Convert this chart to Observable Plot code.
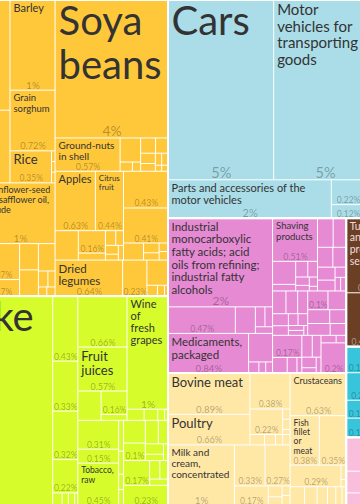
<!DOCTYPE html>
<html><head><meta charset="utf-8">
<script src="https://cdn.jsdelivr.net/npm/d3@7"></script>
<script src="https://cdn.jsdelivr.net/npm/@observablehq/plot@0.6"></script>
<style>html,body{margin:0;padding:0;background:#fff;overflow:hidden}#chart svg{display:block;overflow:hidden}</style>
</head><body><div id="chart"></div>
<script>
const B = n => Array(n).fill("");   // cells whose names are not readable

// ---- Vegetable products (yellow) ----
const vegetableNames = [...B(2),
  ...B(2), "Barley", "Grain sorghum", "Rice", ...B(3),
  "", "Sunflower-seed or safflower oil, crude",
  ...B(11),
  "Soya beans",
  "Ground-nuts in shell", ...B(11),
  "Apples", "Citrus fruit", ...B(8),
  ...B(7),
  "Dried legumes", ...B(5)];
const vegetableShares = [10.4, 8.31,
  2.03, 1.34, 1.07, 0.72, 0.35, 0.01, 0.01, 0.01,
  0.72, 1.12,
  0.3, 0.26, 0.37, 0.17, 0.13, 0.13, 0.12, 0.04, 0.03, 0.02, 0.02,
  4.1,
  0.57, 0.13, 0.03, 0.02, 0.06, 0.05, 0.04, 0.03, 0.02, 0.02, 0.01, 0.01,
  0.63, 0.44, 0.18, 0.16, 0.05, 0.04, 0.03, 0.03, 0.02, 0.02,
  0.43, 0.41, 0.09, 0.04, 0.03, 0.02, 0.02,
  0.64, 0.23, 0.14, 0.03, 0.02, 0.01];
const vegetableTiling = ["h",
  ["v", 2],
  ["v", ["h", ["v", 2], ["v", 2, ["h", 1, ["v", 3]]]], ["h", 2], ["h", ["v", 2], ["v", 2], ["v", 2], ["v", 1, ["s", 4]]]],
  ["v", 1, ["h", 1, ["v", 1, ["h", 2]], ["s", 8]],
    ["h", ["v", ["h", 2], ["h", 1, ["v", 2], ["s", 5]]], ["v", 2, ["h", 1, ["s", 4]]]],
    ["h", 2, ["v", 1, ["h", 3]]]]];

// ---- Foodstuffs (lime) ----
const foodNames = ["Soya-bean oil-cake",
  ...B(8),
  "", "Fruit juices", ...B(3), "Wine of fresh grapes", ...B(4),
  "", "", "Tobacco, raw", ...B(16)];
const foodShares = [19.4,
  0.43, 0.33, 0.32, 0.22, 0.03, 0.02, 0.02, 0.01,
  0.66, 0.57, 0.18, 0.16, 0.04, 1.22, 0.05, 0.04, 0.02, 0.01,
  0.31, 0.15, 0.45, 0.04, 0.03, 0.02, 0.02, 0.13, 0.1, 0.08, 0.06, 0.05, 0.03, 0.02, 0.17, 0.05, 0.04, 0.03, 0.23];
const foodTiling = ["h", 1, ["v", 4, ["h", 4]],
  ["v", ["h", ["v", 2, ["h", 1, ["v", 2]]], ["v", 1, ["h", 4]]],
        ["h", ["v", 3], ["v", 4], ["v", ["h", ["v", 2], ["s", 5]], ["h", 1, ["s", 3]], 1]]]];

// ---- Transportation (light blue) ----
const transportNames = ["Cars", "Motor vehicles for transporting goods", "", "Parts and accessories of the motor vehicles", ...B(3)];
const transportShares = [5.0, 4.87, 0.9, 1.65, 0.22, 0.12, 0.31];
const transportTiling = ["v", ["h", 3], ["h", 1, ["v", 2], 1]];

// ---- Chemical products (pink) ----
const chemicalNames = ["Industrial monocarboxylic fatty acids; acid oils from refining; industrial fatty alcohols", ...B(5),
  "Medicaments, packaged", ...B(4),
  "Shaving products", ...B(8), ...B(9), ...B(10), ...B(6), ...B(12)];
const chemicalShares = [2.44, 0.47, 0.14, 0.05, 0.04, 0.03, 0.84, 0.18, 0.03, 0.02, 0.02,
  0.51, 0.14, 0.04, 0.05, 0.04, 0.03, 0.02, 0.02, 0.01,
  0.12, 0.1, 0.08, 0.07, 0.06, 0.05, 0.03, 0.02, 0.02,
  0.08, 0.07, 0.06, 0.05, 0.04, 0.03, 0.03, 0.02, 0.02, 0.01,
  0.1, 0.09, 0.08, 0.06, 0.07, 0.05,
  0.17, 0.06, 0.04, 0.02, 0.06, 0.05, 0.04, 0.02, 0.02, 0.03, 0.02, 0.2];
const chemicalTiling = ["h",
  ["v", 1, ["h", 2, ["s", 3]], ["h", 1, ["v", 1, ["h", 3]]]],
  ["v", ["h", ["v", 1, ["h", ["v", 2], ["s", 6]]], ["s", 9]],
        ["h", ["s", 10], ["v", ["h", 2], ["h", 2], ["h", 2]]],
        ["h", ["v", 1, ["h", 3]], ["s", 5], ["v", ["h", 2], 1]]]];

// ---- Animal products (cream) ----
const animalNames = ["Bovine meat", "Poultry", ...B(9),
  "Milk and cream, concentrated", ...B(7),
  "Crustaceans", "Fish fillet or meat", ...B(10)];
const animalShares = [0.89, 0.66, 0.38, 0.22, 0.02, 0.02, 0.01, 0.04, 0.03, 0.02, 0.02,
  1.05, 0.33, 0.27, 0.17, 0.04, 0.03, 0.02, 0.02,
  0.63, 0.38, 0.35, 0.29, 0.02, 0.01, 0.07, 0.06, 0.05, 0.04, 0.03, 0.02];
const animalTiling = ["h",
  ["v", ["h", ["v", 2], ["v", 1, ["h", 1, ["v", 3]], ["h", 4]]], ["h", 1, ["v", ["h", 2], ["h", 1, ["s", 4]]]]],
  ["v", 1, ["h", 2], ["h", 1, ["v", 2]], ["h", 6]]];

// ---- Metals (brown), machines (cyan), textiles (light pink) ----
const metalNames = ["Tubes and profiles, seamless", "", ""];
const metalShares = [0.97, 0.4, 0.3];
const metalTiling = ["v", 1, ["h", 2]];
const machineNames = B(7);
const machineShares = [0.19, 0.2, 0.13, 0.14, 0.2, 0.17, 0.15];
const machineTiling = ["h", ["v", 4], ["v", 3]];
const textileNames = B(5);
const textileShares = [0.14, 0.09, 0.05, 0.3, 0.3];
const textileTiling = ["h", ["v", 3], ["v", 2]];

const sectorKeys = ["vegetable", "foodstuffs", "transportation", "chemicals", "animal", "metals", "machines", "textiles"];
const sectorColors = ["#FFC83B", "#D7FC2C", "#AADDE8", "#E68AD4", "#FFE7A6", "#6B3F24", "#38C4DA", "#F8BEDC"];
const sectorData = {
  vegetable: [vegetableNames, vegetableShares, vegetableTiling],
  foodstuffs: [foodNames, foodShares, foodTiling],
  transportation: [transportNames, transportShares, transportTiling],
  chemicals: [chemicalNames, chemicalShares, chemicalTiling],
  animal: [animalNames, animalShares, animalTiling],
  metals: [metalNames, metalShares, metalTiling],
  machines: [machineNames, machineShares, machineTiling],
  textiles: [textileNames, textileShares, textileTiling]
};
const sectorTiling = ["h", ["v", "vegetable", "foodstuffs"],
  ["v", "transportation", ["h", ["v", "chemicals", "animal"], ["v", "metals", "machines", "textiles"]]]];

// ---- layout ----
const FONT = "Lato, 'DejaVu Sans Condensed', sans-serif";
const AREA_PER_SHARE = 3800, TREE_H = 505, VIEW_W = 360, VIEW_H = 504;

function group(spec, src) {
  const [t, ...kids] = spec, children = [];
  for (const k of kids) {
    if (typeof k === "number") {
      for (let i = 0; i < k; i++) { const j = src.i++; children.push({name: src.names[j], value: src.values[j], sector: src.key}); }
    } else if (typeof k === "string") {
      const [names, values, tiling] = sectorData[k];
      const s = {names, values, key: k, i: 0};
      const node = group(tiling, s);
      node.isSector = true; node.sector = k;
      if (s.i !== names.length || names.length !== values.length) console.warn("mismatch", k, s.i, names.length, values.length);
      children.push(node);
    } else children.push(group(k, src));
  }
  return {t, children};
}
const tile = (node, x0, y0, x1, y1) => {
  const t = node.data.t;
  (t === "h" ? d3.treemapDice : t === "v" ? d3.treemapSlice : d3.treemapSquarify)(node, x0, y0, x1, y1);
};
const root = d3.hierarchy(group(sectorTiling, {})).sum(d => d.children ? 0 : d.value);
const W = root.value * AREA_PER_SHARE / TREE_H;
d3.treemap().size([W, TREE_H]).tile(tile)(root);

const sectorNodes = root.descendants().filter(d => d.data.isSector);
const colorOf = Object.fromEntries(sectorKeys.map((k, i) => [k, sectorColors[i]]));
const ox = sectorNodes.find(d => d.data.sector === "transportation").x0 - 168;

const ctx = document.createElement("canvas").getContext("2d");
const measure = (t, f) => { ctx.font = `${f}px ${FONT}`; return ctx.measureText(t).width; };
const LH = 1.1;
function fitName(name, w, h, maxF) {
  const words = name.split(" "), maxW = w - 7;
  for (let f = maxF; f >= 7; f -= 0.5) {
    if (words.some(wd => measure(wd, f) > maxW)) continue;
    const lines = []; let cur = "";
    for (const wd of words) {
      const t = cur ? cur + " " + wd : wd;
      if (measure(t, f) <= maxW) cur = t; else { lines.push(cur); cur = wd; }
    }
    lines.push(cur);
    if (lines.length * f * LH <= h) return {f, text: lines.join("\n"), tw: Math.max(...lines.map(l => measure(l, f)))};
  }
  return null;
}
const capFor = (share, name) => share >= 2 ? (name.split(" ").length <= 3 ? 40 : 15) : share >= 1 ? 11 : 13;
const fmt = v => v >= 1 ? Math.round(v) + "%" : (+v.toFixed(2)) + "%";
const inView = (a, b) => b > ox && a < ox + VIEW_W;

const cells = root.leaves().map(d => {
  const color = colorOf[d.data.sector];
  return {x0: d.x0, x1: d.x1, y0: d.y0, y1: d.y1, name: d.data.name, value: d.data.value, color, dark: d3.lab(color).l < 50};
});
const pctLabels = [], nameLabels = [];
for (const c of cells) {
  const w = c.x1 - c.x0, h = c.y1 - c.y0;
  const pf = Math.max(8.5, Math.min(16, 6 + Math.sqrt(w * h) / 16));
  const txt = fmt(c.value), tw = measure(txt, pf), cx = (c.x0 + c.x1) / 2;
  let reserve = 0;
  if (tw <= w - 0.5 && h >= pf + 2) {
    reserve = pf * 0.6;
    if (inView(cx - tw / 2, cx + tw / 2)) pctLabels.push({...c, f: pf, text: txt});
  }
  if (c.name) {
    const fit = fitName(c.name, w, h - 5 - reserve, capFor(c.value, c.name));
    if (fit && inView(c.x0 + 3, c.x0 + 3 + fit.tw)) nameLabels.push({...c, ...fit});
  }
}

const chart = Plot.plot({
  width: VIEW_W, height: VIEW_H, margin: 0,
  x: {domain: [ox, ox + VIEW_W], range: [0, VIEW_W], axis: null},
  y: {domain: [0, VIEW_H], range: [0, VIEW_H], axis: null},
  color: {type: "identity"},
  style: {background: "white", overflow: "hidden"},
  marks: [
    Plot.rect(cells, {x1: "x0", x2: "x1", y1: "y0", y2: "y1", fill: "color", inset: 0.5, clip: true}),
    Plot.rect(sectorNodes, {x1: "x0", x2: "x1", y1: "y0", y2: "y1", fill: "none", stroke: "white", strokeWidth: 2, clip: true}),
    Plot.text(pctLabels, {x: d => (d.x0 + d.x1) / 2, y: "y1", dy: -2, text: "text", fontSize: d => d.f, lineAnchor: "bottom",
      textAnchor: "middle", fill: d => d.dark ? "#ffffff" : "#000000", fillOpacity: d => d.dark ? 0.45 : 0.3, fontFamily: FONT, clip: true}),
    Plot.text(nameLabels, {x: "x0", y: "y0", dx: 3, dy: 3, text: "text", fontSize: d => d.f, lineAnchor: "top", textAnchor: "start",
      lineHeight: LH, fill: d => d.dark ? "#f2dede" : "#333333", fontFamily: FONT, clip: true})
  ]
});
document.getElementById("chart").append(chart);
</script></body></html>
